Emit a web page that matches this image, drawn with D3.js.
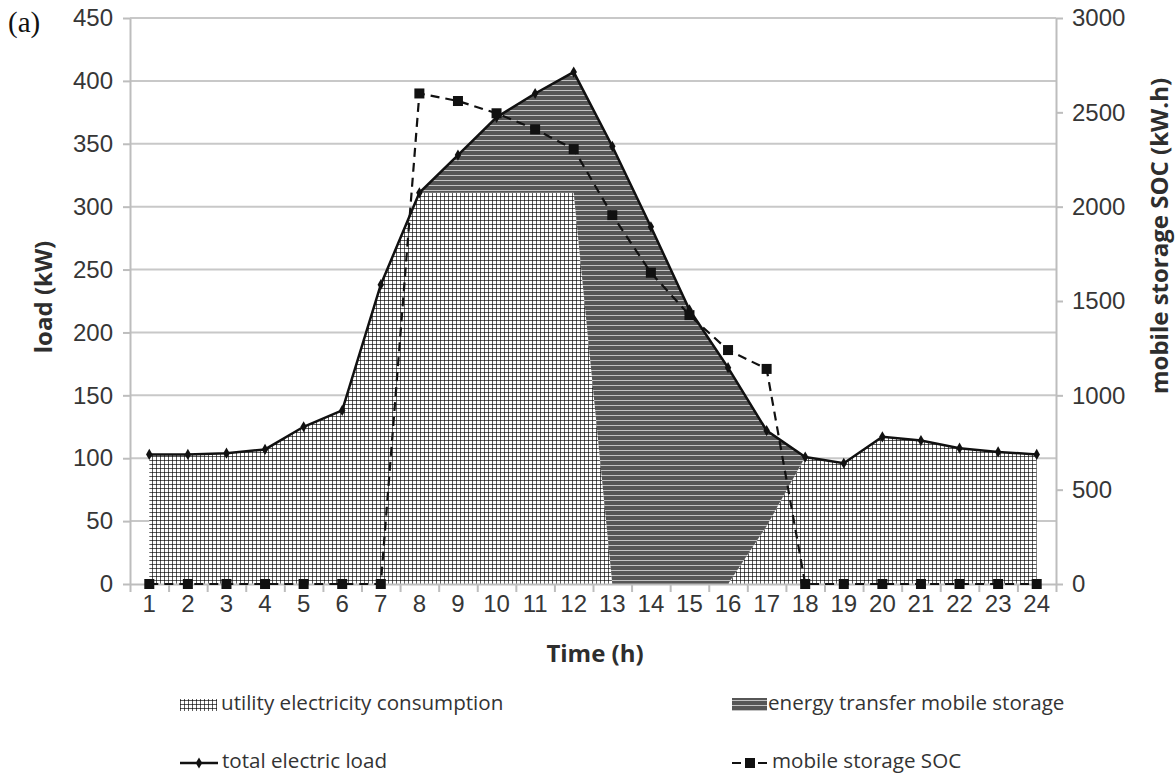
<!DOCTYPE html>
<meta charset="utf-8">
<style>
body { margin: 0; background: #fff; }
svg { font-family: "Open Sans", sans-serif; }
.tick text { fill: #363636; font-size: 24px; }
.grid line { stroke: #c8c8c8; stroke-width: 2px; }
.axis path, .axis line { stroke: #bdbdbd; stroke-width: 2px; }
.title { font-weight: bold; fill: #2e2e2e; font-size: 24px; }
.legend text { font-size: 20.6px; fill: #333; }
</style>
<body>
<div id="chart"></div>
<script src="https://cdn.jsdelivr.net/npm/d3@7"></script>
<script>
// hours on the category axis
var hours = d3.range(1, 25);
// total electric load (kW)
var totalLoad = [103, 103, 104, 107, 125, 138, 238, 311, 341, 371, 390, 407,
                 348, 284, 218, 172, 122, 101, 96, 117, 114, 108, 105, 103];
// part of the load bought from the utility (kW)
var utilityLoad = [103, 103, 104, 107, 125, 138, 238, 311, 311, 311, 311, 311,
                   0, 0, 0, 0, 46, 101, 96, 117, 114, 108, 105, 103];
// mobile storage state of charge (kW.h)
var soc = [0, 0, 0, 0, 0, 0, 0, 2600, 2560, 2495, 2410, 2305,
           1955, 1650, 1425, 1240, 1140, 0, 0, 0, 0, 0, 0, 0];
var loadTicks = d3.range(0, 451, 50);
var socTicks = d3.range(0, 3001, 500);

var W = 1175, H = 778;
var x0 = 130, x1 = 1056, yTop = 18, yBot = 584;

var svg = d3.select("#chart").append("svg")
    .attr("width", W)
    .attr("height", H);

var x = d3.scaleBand().domain(hours).range([x0, x1]);
var xb = d3.scaleLinear().domain([0, 24]).range([x0, x1]);
var yL = d3.scaleLinear().domain([0, 450]).range([yBot, yTop]);
var yR = d3.scaleLinear().domain([0, 3000]).range([yBot, yTop]);
var cx = function(h) { return x(h) + x.bandwidth() / 2; };

// patterns
var defs = svg.append("defs");
var dots = defs.append("pattern").attr("id", "dots")
    .attr("patternUnits", "userSpaceOnUse").attr("width", 4).attr("height", 4);
dots.append("rect").attr("width", 4).attr("height", 4).attr("fill", "#5c5c5c");
dots.append("rect").attr("x", 1).attr("y", 1).attr("width", 3).attr("height", 3).attr("fill", "#fff");
dots.append("rect").attr("width", 1).attr("height", 1).attr("fill", "#222");

var stripes = defs.append("pattern").attr("id", "stripes")
    .attr("patternUnits", "userSpaceOnUse").attr("width", 8).attr("height", 5);
stripes.append("rect").attr("width", 8).attr("height", 5).attr("fill", "#565656");
stripes.append("rect").attr("y", 0).attr("width", 8).attr("height", 1).attr("fill", "#c2c2c2");

// gridlines
svg.append("g").attr("class", "grid")
  .selectAll("line")
  .data(loadTicks.slice(1))
  .enter().append("line")
    .attr("x1", x0).attr("x2", x1)
    .attr("y1", function(d) { return yL(d); })
    .attr("y2", function(d) { return yL(d); });

// stacked areas
var rows = hours.map(function(h, i) {
  return { hour: h, utility: utilityLoad[i], transfer: totalLoad[i] - utilityLoad[i] };
});
var layers = d3.stack().keys(["utility", "transfer"])(rows);
var area = d3.area()
    .x(function(d) { return cx(d.data.hour); })
    .y0(function(d) { return yL(d[0]); })
    .y1(function(d) { return yL(d[1]); });

svg.selectAll(".layer")
  .data(layers)
  .enter().append("path")
    .attr("class", "layer")
    .attr("d", area)
    .attr("fill", function(d, i) { return i == 0 ? "url(#dots)" : "url(#stripes)"; });

// axes
svg.append("g").attr("class", "axis")
    .attr("transform", "translate(" + x0 + ",0)")
    .call(d3.axisLeft(yL).tickValues(loadTicks).tickSize(7).tickPadding(10).tickSizeOuter(0));

svg.append("g").attr("class", "axis")
    .attr("transform", "translate(" + x1 + ",0)")
    .call(d3.axisRight(yR).tickValues(socTicks).tickFormat(d3.format("d"))
      .tickSize(7).tickPadding(9).tickSizeOuter(0));

svg.append("g").attr("class", "axis")
    .attr("transform", "translate(0," + yBot + ")")
    .call(d3.axisBottom(xb).tickValues(d3.range(25)).tickSize(8).tickFormat("").tickSizeOuter(0));

svg.append("g").attr("class", "axis xlab")
    .attr("transform", "translate(0," + yBot + ")")
    .call(d3.axisBottom(x).tickSize(0).tickPadding(11))
    .call(function(g) { g.select(".domain").remove(); });

// total electric load
var loadLine = d3.line()
    .x(function(d, i) { return cx(hours[i]); })
    .y(function(d) { return yL(d); });

svg.append("path")
    .attr("d", loadLine(totalLoad))
    .attr("fill", "none")
    .attr("stroke", "#111")
    .attr("stroke-width", 2.5);

svg.selectAll(".lm")
  .data(totalLoad)
  .enter().append("path")
    .attr("class", "lm")
    .attr("d", d3.symbol().type(d3.symbolDiamond).size(36))
    .attr("transform", function(d, i) { return "translate(" + cx(hours[i]) + "," + yL(d) + ")"; })
    .attr("fill", "#111");

// mobile storage SOC
var socLine = d3.line()
    .x(function(d, i) { return cx(hours[i]); })
    .y(function(d) { return yR(d); });

svg.append("path")
    .attr("d", socLine(soc))
    .attr("fill", "none")
    .attr("stroke", "#111")
    .attr("stroke-width", 2.2)
    .attr("stroke-dasharray", "9,6");

svg.selectAll(".sm")
  .data(soc)
  .enter().append("rect")
    .attr("class", "sm")
    .attr("x", function(d, i) { return cx(hours[i]) - 5; })
    .attr("y", function(d) { return yR(d) - 5; })
    .attr("width", 10).attr("height", 10)
    .attr("fill", "#111");

// titles
svg.append("text").attr("class", "title")
    .attr("x", 595).attr("y", 662)
    .attr("text-anchor", "middle")
    .text("Time (h)");

svg.append("text").attr("class", "title")
    .attr("transform", "translate(52,297) rotate(-90)")
    .attr("text-anchor", "middle")
    .text("load (kW)");

svg.append("text").attr("class", "title")
    .attr("transform", "translate(1168,236) rotate(-90)")
    .attr("text-anchor", "middle")
    .text("mobile storage SOC (kW.h)");

svg.append("text")
    .attr("x", 8).attr("y", 32)
    .attr("font-family", "Liberation Serif, serif")
    .attr("font-size", 29)
    .attr("fill", "#111")
    .text("(a)");

// legend
var leg = svg.append("g").attr("class", "legend");
leg.append("rect").attr("x", 180).attr("y", 699).attr("width", 37).attr("height", 12).attr("fill", "url(#dots)");
leg.append("text").attr("x", 221).attr("y", 710).text("utility electricity consumption");

leg.append("rect").attr("x", 732).attr("y", 698).attr("width", 35).attr("height", 13).attr("fill", "url(#stripes)");
leg.append("text").attr("x", 768).attr("y", 710).text("energy transfer mobile storage");

leg.append("line").attr("x1", 180).attr("x2", 218).attr("y1", 763).attr("y2", 763)
    .attr("stroke", "#111").attr("stroke-width", 2.5);
leg.append("path").attr("d", d3.symbol().type(d3.symbolDiamond).size(36))
    .attr("transform", "translate(199,763)").attr("fill", "#111");
leg.append("text").attr("x", 222).attr("y", 768).text("total electric load");

leg.append("line").attr("x1", 732).attr("x2", 768).attr("y1", 763).attr("y2", 763)
    .attr("stroke", "#111").attr("stroke-width", 2.2).attr("stroke-dasharray", "9,4");
leg.append("rect").attr("x", 745).attr("y", 758).attr("width", 10).attr("height", 10).attr("fill", "#111");
leg.append("text").attr("x", 772).attr("y", 768).text("mobile storage SOC");
</script>
</body>
